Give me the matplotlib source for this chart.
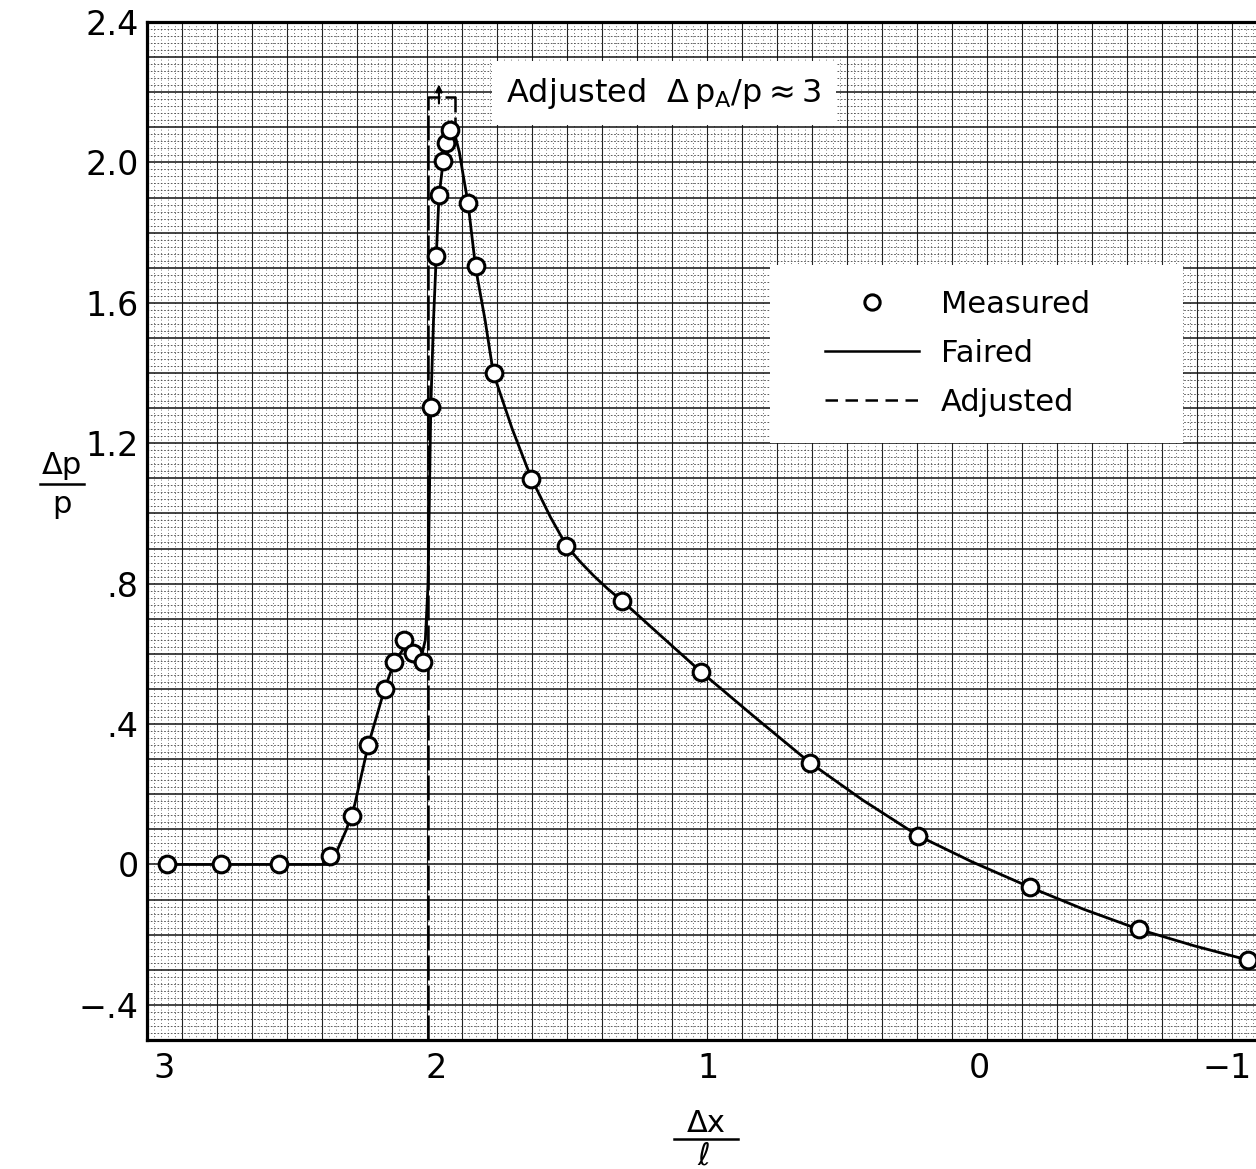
import matplotlib
matplotlib.use("Agg")
import matplotlib.pyplot as plt
from matplotlib.lines import Line2D
from matplotlib.patches import Rectangle
import numpy as np

plt.rcParams['font.family'] = ['DejaVu Sans']
plt.rcParams['mathtext.default'] = 'regular'

# Measured points (dx/l, dp/p)
meas_x = [2.99, 2.79, 2.58, 2.39, 2.31, 2.25, 2.19, 2.155, 2.12, 2.085, 2.05,
          2.02, 2.0, 1.99, 1.975, 1.964, 1.949, 1.883, 1.854, 1.787, 1.651,
          1.522, 1.316, 1.026, 0.625, 0.227, -0.185, -0.586, -0.987]
meas_y = [0.0, 0.0, 0.0, 0.023, 0.139, 0.341, 0.50, 0.577, 0.640, 0.603, 0.577,
          1.302, 1.734, 1.908, 2.004, 2.056, 2.093, 1.885, 1.706, 1.399, 1.098,
          0.907, 0.751, 0.549, 0.290, 0.082, -0.065, -0.185, -0.273]

# Faired curve
faired_x = [3.0, 2.40, 2.37, 2.33, 2.30, 2.25, 2.19, 2.155, 2.12, 2.08, 2.055,
            2.04, 2.03, 2.025, 2.02, 2.01, 2.0, 1.99, 1.975, 1.962, 1.948, 1.935,
            1.915, 1.90, 1.883, 1.855, 1.82, 1.79, 1.72, 1.65, 1.58, 1.52, 1.47,
            1.42, 1.37, 1.316, 1.17, 1.026, 0.83, 0.625, 0.43, 0.227, 0.03,
            -0.185, -0.38, -0.586, -0.79, -1.0]
faired_y = [0.0, 0.0, 0.03, 0.10, 0.17, 0.34, 0.50, 0.575, 0.615, 0.605, 0.59,
            0.64, 0.80, 1.05, 1.30, 1.55, 1.73, 1.90, 2.0, 2.055, 2.09, 2.09,
            2.03, 1.96, 1.885, 1.70, 1.55, 1.40, 1.24, 1.10, 0.99, 0.907, 0.862,
            0.822, 0.786, 0.751, 0.649, 0.549, 0.421, 0.290, 0.183, 0.082, 0.008,
            -0.065, -0.127, -0.185, -0.232, -0.275]

# Adjusted profile
adj_x = [2.03, 2.03, 1.93, 1.93]
adj_y = [-0.5, 2.185, 2.185, 2.08]
arrow_x = 1.99
arrow_y = (2.16, 2.23)

xticks = [3, 2, 1, 0, -1]
xtick_labels = ['3', '2', '1', '0', '\u22121']
yticks = [2.4, 2.0, 1.6, 1.2, 0.8, 0.4, 0.0, -0.4]
ytick_labels = ['2.4', '2.0', '1.6', '1.2', '.8', '.4', '0', '\u2212.4']

W, H = 1256, 1169
fig = plt.figure(figsize=(W / 100, H / 100), dpi=100)
ax = fig.add_axes([147 / W, 1 - 1040 / H, (W - 147) / W, (1040 - 22) / H])
ax.set_xlim(3.064, -1.016)
ax.set_ylim(-0.5, 2.4)

# graph paper (vertical rulings follow the paper, not the data)
step = 35 / 1109
for i, xf in enumerate(np.arange(0, 1.0001, step / 5)):
    if i % 5 == 0:
        ax.plot([xf, xf], [0, 1], transform=ax.transAxes, color='#222222',
                lw=0.8, zorder=0.5)
    else:
        ax.plot([xf, xf], [0, 1], transform=ax.transAxes, color='#444444',
                lw=0.6, dashes=(1, 3), zorder=0.5)
for yv in np.arange(-0.5, 2.401, 0.02):
    if abs(round(yv / 0.1) * 0.1 - yv) < 1e-6:
        ax.axhline(yv, color='#111111', lw=1.1, zorder=0.5)
    else:
        ax.axhline(yv, color='#444444', lw=0.6, dashes=(2, 2), zorder=0.5)

ax.plot(faired_x, faired_y, color='black', lw=2.0, zorder=3)
ax.plot(adj_x, adj_y, color='black', lw=1.8, dashes=(10, 2), zorder=3)
ax.annotate('', xy=(arrow_x, arrow_y[1]), xytext=(arrow_x, arrow_y[0]),
            arrowprops=dict(arrowstyle='-|>', color='black', lw=1.5,
                            mutation_scale=10), zorder=3)
ax.plot(meas_x, meas_y, 'o', ms=12, mfc='white', mec='black', mew=2.2,
        zorder=4)

for s in ax.spines.values():
    s.set_linewidth(2.3)
ax.spines['right'].set_visible(False)

ax.set_xticks(xticks)
ax.set_xticklabels(xtick_labels)
ax.set_yticks(yticks)
ax.set_yticklabels(ytick_labels)
ax.tick_params(length=0, labelsize=24)
ax.tick_params(axis='y', pad=6)
ax.tick_params(axis='x', pad=9)
ax.get_xticklabels()[-1].set_horizontalalignment('right')

ax.text(0.466, 0.930, r'Adjusted  $\Delta\,p_A/p \approx 3$', transform=ax.transAxes,
        ha='center', va='center', fontsize=23, zorder=6,
        bbox=dict(boxstyle='square,pad=0.45', fc='white', ec='none'))

# legend on its own white panel
ax.add_patch(Rectangle((0.562, 0.586), 0.372, 0.175, transform=ax.transAxes,
                       fc='white', ec='none', zorder=5))
handles = [Line2D([], [], ls='none', marker='o', ms=11, mfc='white', mec='black', mew=2.2),
           Line2D([], [], color='black', lw=1.8),
           Line2D([], [], color='black', lw=1.8, dashes=(5, 3))]
leg = ax.legend(handles, ['Measured', 'Faired', 'Adjusted'], loc='upper left',
                bbox_to_anchor=(0.611, 0.737), fontsize=22, frameon=False,
                handlelength=3.1, handletextpad=0.7, labelspacing=0.66,
                borderpad=0, borderaxespad=0)
leg.set_zorder(6)

# axis labels as stacked fractions
fig.text(62 / W, 1 - 466 / H, '\u0394p', fontsize=22, ha='center', va='center')
fig.add_artist(Line2D([40 / W, 84 / W], [1 - 484 / H] * 2, color='black', lw=1.8))
fig.text(62 / W, 1 - 504 / H, 'p', fontsize=22, ha='center', va='center')

fig.text(706 / W, 1 - 1124 / H, '\u0394x', fontsize=22, ha='center', va='center')
fig.add_artist(Line2D([674 / W, 738 / W], [1 - 1139 / H] * 2, color='black', lw=1.8))
fig.text(704 / W, 1 - 1156 / H, '\u2113', fontsize=22, ha='center', va='center',
         style='italic')

fig.savefig('out.png', dpi=100)
